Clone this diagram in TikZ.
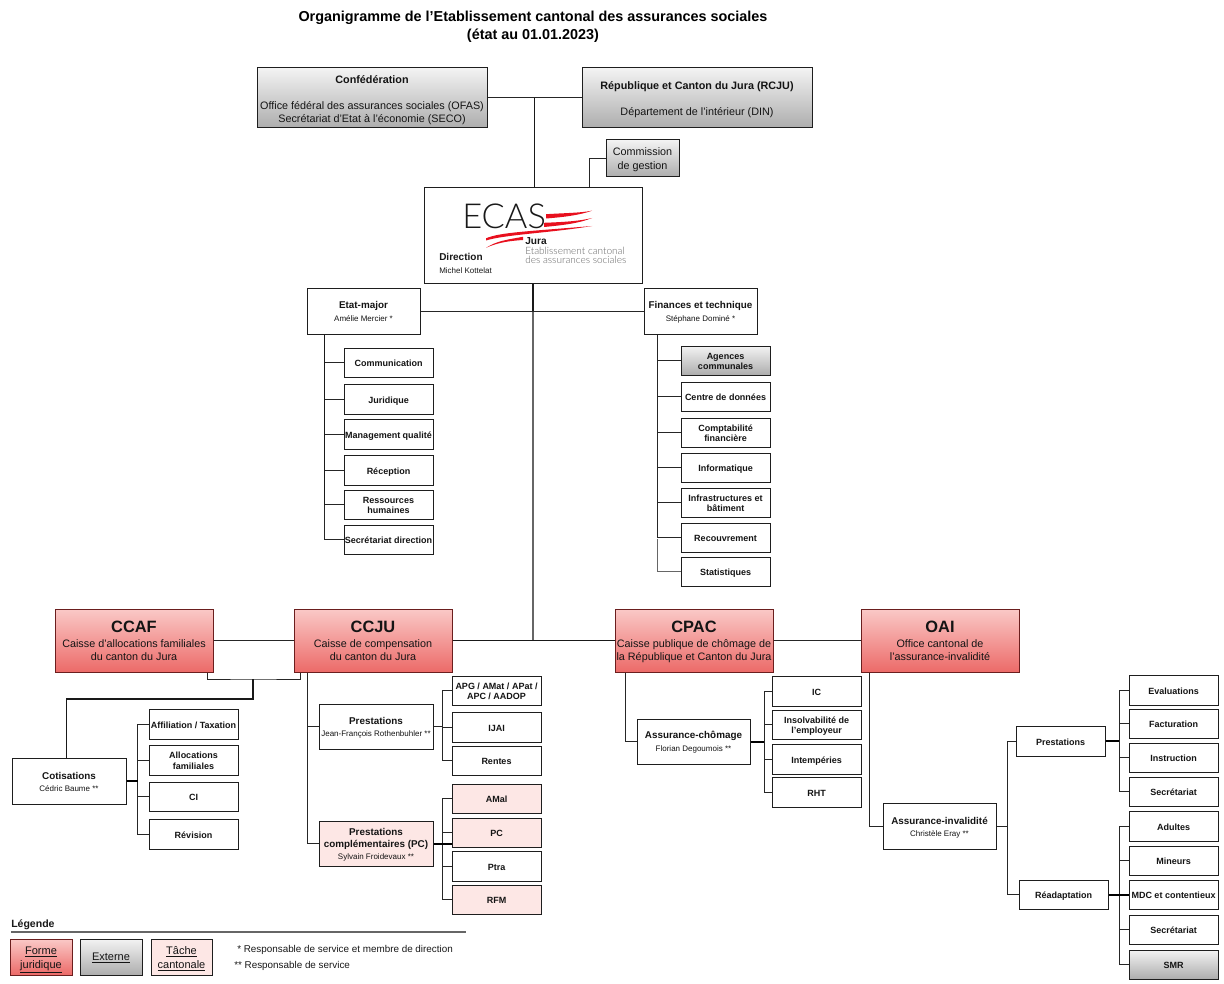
\documentclass[tikz,border=0pt]{standalone}
\usepackage{fontspec}
\setmainfont{Liberation Sans}
\newfontfamily\logofont{Lato Light}
\usetikzlibrary{calc}
\definecolor{bordr}{HTML}{1E1E1E}
\definecolor{redtop}{HTML}{FAC9C7}
\definecolor{redbot}{HTML}{EC6A68}
\definecolor{redbrd}{HTML}{6B1E1E}
\definecolor{greytop}{HTML}{F3F3F3}
\definecolor{greybot}{HTML}{ADADAD}
\definecolor{pinkfill}{HTML}{FDE7E5}
\definecolor{logored}{HTML}{E8101E}
\def\bxd{1.8pt}
\tikzset{
  boxbase/.style={draw=bordr,line width=0.75pt,inner sep=0pt,align=center,text=black!92},
  wbox/.style={boxbase,fill=white},
  gbox/.style={boxbase,top color=greytop,bottom color=greybot},
  rbox/.style={boxbase,draw=redbrd,top color=redtop,bottom color=redbot},
  pbox/.style={boxbase,fill=pinkfill},
  small/.style={font=\fontsize{6.75}{7.6}\selectfont\bfseries\def\bxd{1.5pt}},
  mid/.style={font=\fontsize{8.1}{9.75}\selectfont\def\bxd{1.5pt}},
  midb/.style={font=\fontsize{7.4}{9}\selectfont\bfseries\def\bxd{1.3pt}},
  midc/.style={font=\fontsize{7.4}{10.1}\selectfont\bfseries\def\bxd{0.6pt}},
  lead/.style={font=\fontsize{8.1}{9.75}\selectfont\def\bxd{1.7pt}},
  conn/.style={draw=black!85,line width=0.75pt},
  bold/.style={draw=black,line width=1.5pt},
  tk/.style={draw=black!90,line width=1.2pt},
  greyline/.style={draw=black!60,line width=1.1pt},
  plain/.style={inner sep=0pt,anchor=west,text=black!90},
}
\newcommand\bx[7]{\node[#1,minimum width={(#5-#3)*0.75pt},minimum height={(#6-#4)*0.75pt}] (#2) at ({(#3+#5)/2},{(#4+#6)/2}) {\raisebox{-\bxd}[\height][\depth]{\begin{tabular}{@{}c@{}}#7\end{tabular}}};}
\newcommand\nm[1]{{\normalfont\fontsize{6}{9}\selectfont #1}}
\newcommand\bighead[1]{{\fontsize{12.3}{14}\selectfont\bfseries #1}}
\begin{document}
\begin{tikzpicture}[x=0.75pt,y=-0.75pt]
\useasboundingbox[fill=white] (0,0) rectangle (1224,984);
% title
\node[inner sep=0pt,align=center,font=\fontsize{10.8}{13.5}\selectfont\bfseries] (title) at (533,27) {Organigramme de l'Etablissement cantonal des assurances sociales\\(état au 01.01.2023)};
% top
\bx{gbox,mid}{conf}{257}{68}{487}{128}{\textbf{Confédération}\\ ~ \\Office fédéral des assurances sociales (OFAS)\\Secrétariat d'Etat à l'économie (SECO)}
\bx{gbox,mid}{rcju}{582}{68}{812}{128}{\textbf{République et Canton du Jura (RCJU)}\\ ~ \\Département de l'intérieur (DIN)}
\bx{gbox,font=\fontsize{8.1}{10.5}\selectfont\def\bxd{0.7pt}}{comm}{606}{140}{679}{177}{Commission\\de gestion}
\bx{wbox}{dir}{424}{188}{642}{284}{}
% logo
\node[plain,font=\fontsize{25.8}{26}\logofont] (ecas) at (462,216) {ECAS};
\fill[logored] (546,214.2) .. controls (565,213) and (580,213) .. (592,210.7) .. controls (580,215) and (565,217) .. (546,218.5) -- cycle;
\fill[logored] (544,222.8) .. controls (565,222) and (580,221) .. (592,218) .. controls (580,223) and (565,225) .. (544,227) -- cycle;
\fill[logored] (486,238.3) .. controls (500,232.3) and (527,231.5) .. (592,226) .. controls (550,233) and (505,234.5) .. (486,240.5) -- cycle;
\fill[logored] (486,247.8) .. controls (497,241) and (505,240) .. (523,236.8) -- (523,240) .. controls (507,241) and (497,243) .. (486,247.8) -- cycle;
\node[plain,font=\fontsize{7.6}{9}\selectfont\bfseries] (jura) at (525,241) {Jura};
\node[plain,text=black!60,font=\fontsize{7.55}{7.6}\logofont] (et1) at (525,251) {Etablissement cantonal};
\node[plain,text=black!60,font=\fontsize{7.55}{7.6}\logofont] (et2) at (525,260) {des assurances sociales};
\node[plain,font=\fontsize{7.5}{9}\selectfont\bfseries] (dirt) at (439,257) {Direction};
\node[plain,font=\fontsize{6}{7}\selectfont] (dirn) at (439,270.5) {Michel Kottelat};
% etat-major, finances
\bx{wbox,midc}{etat}{307}{289}{420}{334}{Etat-major\\\nm{Amélie Mercier *}}
\bx{wbox,midc}{fin}{644}{289}{757}{334}{Finances et technique\\\nm{Stéphane Dominé *}}
\bx{wbox,small}{e1}{344}{348}{433}{377}{Communication}
\bx{wbox,small}{e2}{344}{384}{433}{414}{Juridique}
\bx{wbox,small}{e3}{344}{419}{433}{449}{Management qualité}
\bx{wbox,small}{e4}{344}{455}{433}{485}{Réception}
\bx{wbox,small}{e5}{344}{490}{433}{519}{Ressources\\humaines}
\bx{wbox,small}{e6}{344}{525}{433}{554}{Secrétariat direction}
\bx{gbox,small}{f1}{681}{346}{770}{375}{Agences\\communales}
\bx{wbox,small}{f2}{681}{382}{770}{411}{Centre de données}
\bx{wbox,small}{f3}{681}{418}{770}{447}{Comptabilité\\financière}
\bx{wbox,small}{f4}{681}{453}{770}{482}{Informatique}
\bx{wbox,small}{f5}{681}{488}{770}{517}{Infrastructures et\\bâtiment}
\bx{wbox,small}{f6}{681}{523}{770}{552}{Recouvrement}
\bx{wbox,small}{f7}{681}{557}{770}{586}{Statistiques}
% main row
\bx{rbox,lead}{ccaf}{55}{609}{213}{672}{\bighead{CCAF}\\[1.55pt]Caisse d'allocations familiales\\du canton du Jura}
\bx{rbox,lead}{ccju}{294}{609}{452}{672}{\bighead{CCJU}\\[1.55pt]Caisse de compensation\\du canton du Jura}
\bx{rbox,lead}{cpac}{615}{609}{773}{672}{\bighead{CPAC}\\[1.55pt]Caisse publique de chômage de\\la République et Canton du Jura}
\bx{rbox,lead}{oai}{861}{609}{1019}{672}{\bighead{OAI}\\[1.55pt]Office cantonal de\\l'assurance-invalidité}
% ccaf / cotisations
\bx{wbox,midb}{cot}{12}{758}{126}{804}{Cotisations\\\nm{Cédric Baume **}}
\bx{wbox,small}{c1}{149}{709}{238}{739}{Affiliation / Taxation}
\bx{wbox,small}{c2}{149}{745}{238}{775}{Allocations\\familiales}
\bx{wbox,small}{c3}{149}{782}{238}{811}{CI}
\bx{wbox,small}{c4}{149}{819}{238}{849}{Révision}
% ccju
\bx{wbox,midb}{pr}{319}{704}{433}{749}{Prestations\\\nm{Jean-François Rothenbuhler **}}
\bx{pbox,midb}{pc}{319}{821}{433}{866}{Prestations\\complémentaires (PC)\\\nm{Sylvain Froidevaux **}}
\bx{wbox,small}{p1}{452}{676}{541}{705}{APG / AMat / APat /\\APC / AADOP}
\bx{wbox,small}{p2}{452}{712}{541}{742}{IJAI}
\bx{wbox,small}{p3}{452}{746}{541}{775}{Rentes}
\bx{pbox,small}{q1}{452}{784}{541}{813}{AMal}
\bx{pbox,small}{q2}{452}{818}{541}{847}{PC}
\bx{wbox,small}{q3}{452}{851}{541}{881}{Ptra}
\bx{pbox,small}{q4}{452}{885}{541}{914}{RFM}
% cpac
\bx{wbox,midc}{ac}{637}{719}{750}{764}{Assurance-chômage\\\nm{Florian Degoumois **}}
\bx{wbox,small}{a1}{772}{676}{861}{706}{IC}
\bx{wbox,small}{a2}{772}{710}{861}{739}{Insolvabilité de\\l'employeur}
\bx{wbox,small}{a3}{772}{744}{861}{774}{Intempéries}
\bx{wbox,small}{a4}{772}{777}{861}{807}{RHT}
% oai
\bx{wbox,midb}{ai}{883}{803}{996}{849}{Assurance-invalidité\\\nm{Christèle Eray **}}
\bx{wbox,small}{op}{1016}{726}{1105}{756}{Prestations}
\bx{wbox,small}{or}{1019}{880}{1108}{909}{Réadaptation}
\bx{wbox,small}{o1}{1129}{675}{1218}{705}{Evaluations}
\bx{wbox,small}{o2}{1129}{709}{1218}{738}{Facturation}
\bx{wbox,small}{o3}{1129}{743}{1218}{772}{Instruction}
\bx{wbox,small}{o4}{1129}{777}{1218}{806}{Secrétariat}
\bx{wbox,small}{r1}{1129}{811}{1218}{841}{Adultes}
\bx{wbox,small}{r2}{1129}{846}{1218}{875}{Mineurs}
\bx{wbox,small}{r3}{1129}{880}{1218}{909}{MDC et contentieux}
\bx{wbox,small}{r4}{1129}{915}{1218}{944}{Secrétariat}
\bx{gbox,small}{r5}{1129}{950}{1218}{979}{SMR}
% connectors: top
\draw[conn] (conf.east) -- (rcju.west);
\coordinate (topj) at (534.5,98);
\draw[tk] (topj |- conf.east) -- (topj |- dir.north);
\draw[conn] ($(dir.north west)+(166,0)$) |- (comm.west);
\coordinate (tm) at (dir.south |- etat.east);
\coordinate (tj) at (dir.south |- ccju.east);
\draw[greyline] (tm) -- (tj);
\draw[tk] (dir.south) -- (tm);
\draw[conn] (etat.east) -- (fin.west);
% etat children
\foreach \c in {e1,e2,e3,e4,e5,e6} \draw[conn] ($(etat.south west)+(18,0)$) |- (\c.west);
\foreach \c in {f1,f2,f3,f4,f5,f6} \draw[conn] ($(fin.south west)+(14,0)$) |- (\c.west);
\draw[greyline] ($(fin.south west)+(14,204)$) |- (f7.west);
\draw[tk] ($(etat.south west)+(18,0)$) -- ($(etat.south west)+(18,170)$);
% main row
\draw[conn] (ccaf.east) -- (ccju.west);
\draw[tk] (ccju.east) -- (cpac.west);
\draw[conn] (cpac.east) -- (oai.west);
% ccaf-ccju to cotisations
\coordinate (cb) at (253,679);
\coordinate (cc) at (150,699);
\draw[conn] ($(ccaf.south west)+(153,0)$) |- (cb) -| ($(ccju.south west)+(7,0)$);
\draw[tk] (cb) |- (cc) -| ($(cot.north west)+(55,0)$);
\coordinate (cbus) at (137.5,781);
\foreach \c in {c1,c2,c3,c4} \draw[conn] (cbus) |- (\c.west);
\draw[bold] (cbus -| cot.east) -- (cbus);
% ccju
\draw[conn] ($(ccju.south west)+(14,0)$) |- (pr.west);
\draw[conn] ($(ccju.south west)+(14,0)$) |- (pc.west);
\coordinate (pbus) at (442,726);
\foreach \c in {p1,p2,p3} \draw[conn] (pbus) |- (\c.west);
\draw[conn] (pr.east) -- (pr.east -| pbus);
\coordinate (qbus) at (442,844);
\foreach \c in {q1,q2,q3,q4} \draw[conn] (qbus) |- (\c.west);
\draw[bold] (pc.east) -- (pc.east -| q1.west);
% cpac
\draw[conn] ($(cpac.south west)+(11,0)$) |- (ac.west);
\coordinate (abus) at (764,742);
\foreach \c in {a1,a2,a3,a4} \draw[conn] (abus) |- (\c.west);
\draw[bold] (ac.east) -- (ac.east -| abus);
% oai
\draw[conn] ($(oai.south west)+(9,0)$) |- (ai.west);
\coordinate (obus) at (1007,826);
\draw[conn] (ai.east) -- (ai.east -| obus);
\draw[conn] (obus) |- (op.west);
\draw[conn] (obus) |- (or.west);
\coordinate (o4bus) at (1119,741);
\foreach \c in {o1,o2,o3,o4} \draw[conn] (o4bus) |- (\c.west);
\draw[bold] (op.east) -- (op.east -| o4bus);
\coordinate (r5bus) at (1119,895);
\foreach \c in {r1,r2,r3,r4,r5} \draw[conn] (r5bus) |- (\c.west);
\draw[bold] (or.east) -- (or.east -| r3.west);
% legend
\node[plain,font=\fontsize{7.9}{9}\selectfont\bfseries] (leg) at (11,925) {Légende};
\coordinate (lega) at (11,932);
\coordinate (legb) at (466,932);
\draw[draw=black!60,line width=0.85pt] (lega) -- (legb);
\bx{rbox,font=\fontsize{8.25}{10.5}\selectfont\def\bxd{1.2pt}}{l1}{10}{939}{72}{975}{\underline{Forme}\\\underline{juridique}}
\bx{gbox,font=\fontsize{8.25}{10.5}\selectfont\def\bxd{0.7pt}}{l2}{80}{939}{142}{975}{\underline{Externe}}
\bx{pbox,font=\fontsize{8.25}{10.5}\selectfont\def\bxd{1.2pt}}{l3}{151}{939}{212}{975}{\underline{Tâche}\\\underline{cantonale}}
\node[plain,font=\fontsize{7.4}{8}\selectfont] (n1) at (237,950) {* Responsable de service et membre de direction};
\node[plain,font=\fontsize{7.4}{8}\selectfont] (n2) at (234,966) {** Responsable de service};
\end{tikzpicture}
\end{document}
